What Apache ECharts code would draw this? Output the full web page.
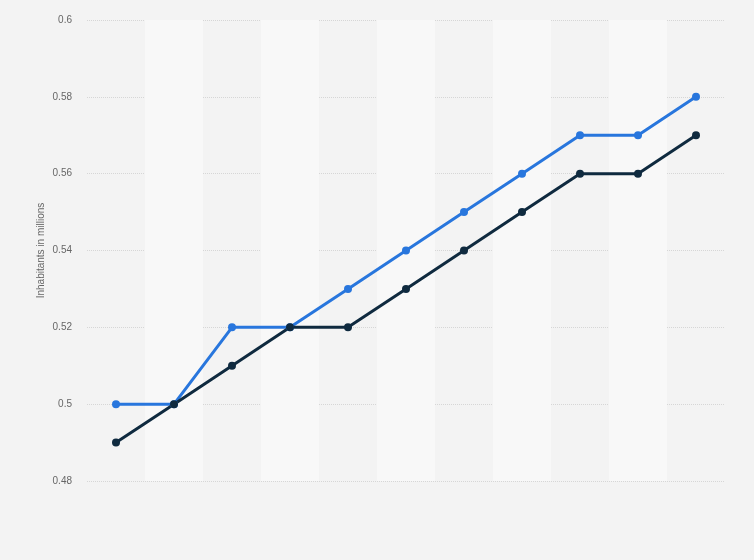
<!DOCTYPE html>
<html>
<head>
<meta charset="utf-8">
<script src="https://cdn.jsdelivr.net/npm/echarts@6/dist/echarts.min.js"></script>
<style>
  html, body { margin: 0; padding: 0; background: #f3f3f3; }
  #chart { width: 754px; height: 560px; }
</style>
</head>
<body>
<div id="chart"></div>
<script>
// x labels are not shown in the picture
var years = ['2010', '2011', '2012', '2013', '2014', '2015', '2016', '2017', '2018', '2019', '2020'];
var seriesBlue = [0.50, 0.50, 0.52, 0.52, 0.53, 0.54, 0.55, 0.56, 0.57, 0.57, 0.58];
var seriesDark = [0.49, 0.50, 0.51, 0.52, 0.52, 0.53, 0.54, 0.55, 0.56, 0.56, 0.57];

var chart = echarts.init(document.getElementById('chart'));
chart.setOption({
  backgroundColor: '#f3f3f3',
  animation: false,
  grid: { left: 87, right: 29, top: 20, bottom: 79 },
  xAxis: {
    type: 'category',
    data: years,
    boundaryGap: true,
    axisLine: { show: false },
    axisTick: { show: false },
    axisLabel: { show: false },
    splitArea: {
      show: true,
      areaStyle: { color: ['rgba(0,0,0,0)', '#f8f8f8'] }
    }
  },
  yAxis: {
    type: 'value',
    min: 0.48,
    max: 0.6,
    interval: 0.02,
    name: 'Inhabitants in millions',
    nameLocation: 'middle',
    nameGap: 41,
    nameMoveOverlap: false,
    nameTextStyle: { color: '#666', fontSize: 10, fontFamily: 'Arial, Liberation Sans' },
    axisLine: { show: false },
    axisTick: { show: false },
    axisLabel: {
      color: '#666',
      fontSize: 10,
      margin: 15,
      fontFamily: 'Arial, Liberation Sans',
      formatter: function (v) { return String(+v.toFixed(2)); }
    },
    splitLine: { lineStyle: { color: '#d6d6d6', type: 'dotted', width: 1 } }
  },
  series: [
    {
      name: 'blue',
      type: 'line',
      data: seriesBlue,
      symbol: 'circle',
      symbolSize: 8,
      lineStyle: { color: '#2876dd', width: 3 },
      itemStyle: { color: '#2876dd' }
    },
    {
      name: 'dark',
      type: 'line',
      data: seriesDark,
      symbol: 'circle',
      symbolSize: 8,
      lineStyle: { color: '#0f2a3f', width: 3 },
      itemStyle: { color: '#0f2a3f' }
    }
  ]
});
</script>
</body>
</html>
